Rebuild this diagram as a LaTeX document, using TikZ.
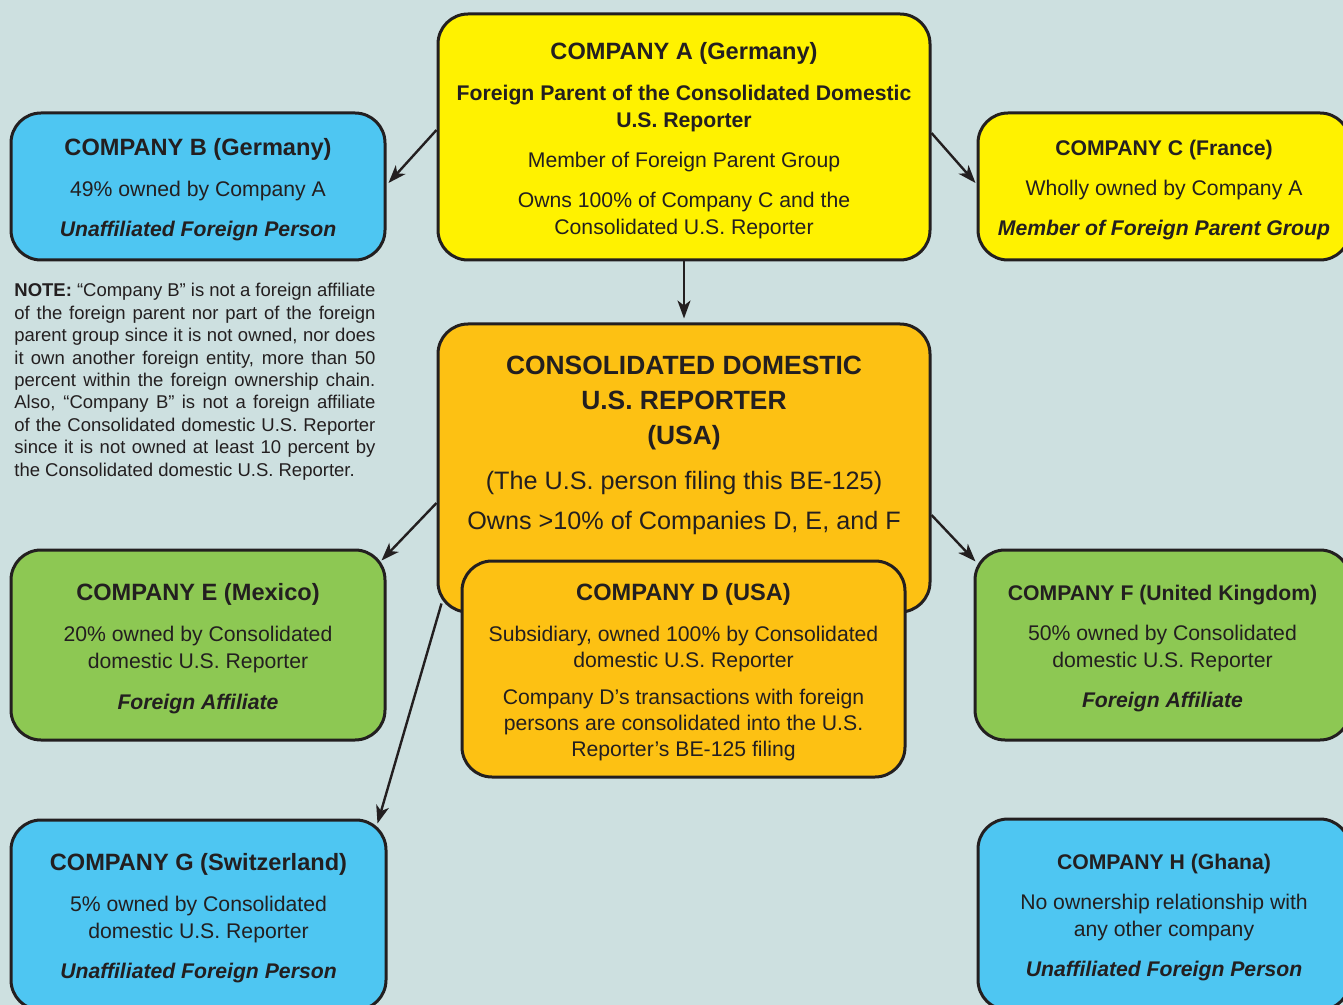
\documentclass[tikz,border=0pt]{standalone}
\usepackage{fontspec}
\setmainfont{Liberation Sans}
\usetikzlibrary{arrows.meta}

\definecolor{bgcol}{HTML}{CDE0E0}
\definecolor{boxblue}{HTML}{4EC6F2}
\definecolor{boxyellow}{HTML}{FFF200}
\definecolor{boxorange}{HTML}{FDC113}
\definecolor{boxgreen}{HTML}{8DC853}
\definecolor{inkcol}{HTML}{231F20}

\newcommand{\ttlbig}[1]{{\fontsize{11.8pt}{13.5pt}\selectfont\bfseries\rule{0pt}{12pt}#1}}
\newcommand{\ttlsmall}[1]{{\bfseries\rule{0pt}{11pt}#1}}
\newcommand{\constitle}[1]{{\fontsize{13.2pt}{17.5pt}\selectfont\bfseries #1}}
\newcommand{\status}[1]{\textbf{\textit{#1}}}

\begin{document}
\begin{tikzpicture}[x=0.5pt, y=-0.5pt,
    box/.style={draw=inkcol, line width=1.5pt, rounded corners=15pt, align=center,
        inner sep=0pt, text=inkcol, font=\fontsize{10.6pt}{13.5pt}\selectfont},
    arr/.style={draw=inkcol, line width=1.2pt, -{Stealth[length=9pt, width=6.5pt, inset=2.5pt]}},
    note/.style={text=inkcol, text width=180.5pt, align=justify, inner sep=0pt,
        font=\fontsize{9.25pt}{11.2pt}\selectfont}]
    % Background and frame
    \useasboundingbox (0,0) rectangle (1343,1005);
    \fill[bgcol] (0,0) rectangle (1343,1005);
    \clip (0,0) rectangle (1343,1005);

    % Top row
    \node[box, fill=boxyellow, minimum width=246pt, minimum height=123pt] (compA) at (684,137)
        {\ttlbig{COMPANY A (Germany)}\\[7pt]
         \textbf{Foreign Parent of the Consolidated Domestic}\\
         \textbf{U.S. Reporter}\\[6.5pt]
         Member of Foreign Parent Group\\[6.5pt]
         Owns 100\% of Company C and the\\
         Consolidated U.S. Reporter};
    \node[box, fill=boxblue, minimum width=187pt, minimum height=73.5pt] (compB) at (198,186.5)
        {\ttlbig{COMPANY B (Germany)}\\[7pt]
         49\% owned by Company A\\[6.5pt]
         \status{Unaffiliated Foreign Person}};
    \node[box, fill=boxyellow, minimum width=186pt, minimum height=73.5pt] (compC) at (1164,186.5)
        {\ttlsmall{COMPANY C (France)}\\[6.5pt]
         Wholly owned by Company A\\[6.5pt]
         \status{Member of Foreign Parent Group}};

    % Note under Company B
    \node[note, anchor=north west] (noteB) at (14,283)
        {\hyphenpenalty=10000 \tolerance=10000
         \textbf{NOTE:} “Company B” is not a foreign affiliate\linebreak
         of the foreign parent nor part of the foreign\linebreak
         parent group since it is not owned, nor does\linebreak
         it own another foreign entity, more than 50\linebreak
         percent within the foreign ownership chain.\linebreak
         Also, “Company B” is not a foreign affiliate\linebreak
         of the Consolidated domestic U.S. Reporter\linebreak
         since it is not owned at least 10 percent by\linebreak
         the Consolidated domestic U.S. Reporter.};

    % Consolidated reporter and Company D
    \node[box, fill=boxorange, minimum width=246pt, minimum height=144pt] (cons) at (684,468) {};
    \node[text=inkcol, align=center, inner sep=0pt, font=\fontsize{12.6pt}{17.5pt}\selectfont] (constext) at (684,445)
        {\constitle{CONSOLIDATED DOMESTIC}\\
         \constitle{U.S. REPORTER}\\
         \constitle{(USA)}\\[5pt]
         (The U.S. person filing this BE-125)\\[2.5pt]
         Owns >10\% of Companies D, E, and F};
    \node[box, fill=boxorange, minimum width=221.5pt, minimum height=108pt,
        font=\fontsize{10.6pt}{13pt}\selectfont] (compD) at (683.5,669)
        {\ttlbig{COMPANY D (USA)}\\[7.5pt]
         Subsidiary, owned 100\% by Consolidated\\
         domestic U.S. Reporter\\[5.5pt]
         Company D’s transactions with foreign\\
         persons are consolidated into the U.S.\\
         Reporter’s BE-125 filing};

    % Middle row
    \node[box, fill=boxgreen, minimum width=187pt, minimum height=95pt] (compE) at (198,645)
        {\ttlbig{COMPANY E (Mexico)}\\[7pt]
         20\% owned by Consolidated\\
         domestic U.S. Reporter\\[7pt]
         \status{Foreign Affiliate}};
    \node[box, fill=boxgreen, minimum width=187.5pt, minimum height=95pt] (compF) at (1162.5,645)
        {\ttlsmall{COMPANY F (United Kingdom)}\\[6.5pt]
         50\% owned by Consolidated\\
         domestic U.S. Reporter\\[6.5pt]
         \status{Foreign Affiliate}};

    % Bottom row
    \node[box, fill=boxblue, minimum width=187.5pt, minimum height=95pt] (compG) at (198.5,915)
        {\ttlbig{COMPANY G (Switzerland)}\\[7pt]
         5\% owned by Consolidated\\
         domestic U.S. Reporter\\[6.5pt]
         \status{Unaffiliated Foreign Person}};
    \node[box, fill=boxblue, minimum width=186pt, minimum height=95.5pt] (compH) at (1164,914.5)
        {\ttlsmall{COMPANY H (Ghana)}\\[6.5pt]
         No ownership relationship with\\
         any other company\\[6.5pt]
         \status{Unaffiliated Foreign Person}};

    % Ownership arrows
    \draw[arr] ([yshift=3.5pt]compA.west) -- ([xshift=1pt,yshift=1.75pt]compB.east);
    \draw[arr] ([yshift=2pt]compA.east) -- ([xshift=-0.5pt,yshift=1.75pt]compC.west);
    \draw[arr, shorten >=2pt] (compA.south) -- (cons.north);
    \draw[arr] ([yshift=-17.5pt]cons.west) -- ([xshift=-2.5pt,yshift=-6pt]compE.north east);
    \draw[arr] ([yshift=-23.5pt]cons.east) -- ([xshift=1pt,yshift=-6.5pt]compF.north west);
    \draw[arr] ([xshift=2.5pt,yshift=5pt]cons.south west) -- ([xshift=-5pt,yshift=-2.5pt]compG.north east);
\end{tikzpicture}
\end{document}
